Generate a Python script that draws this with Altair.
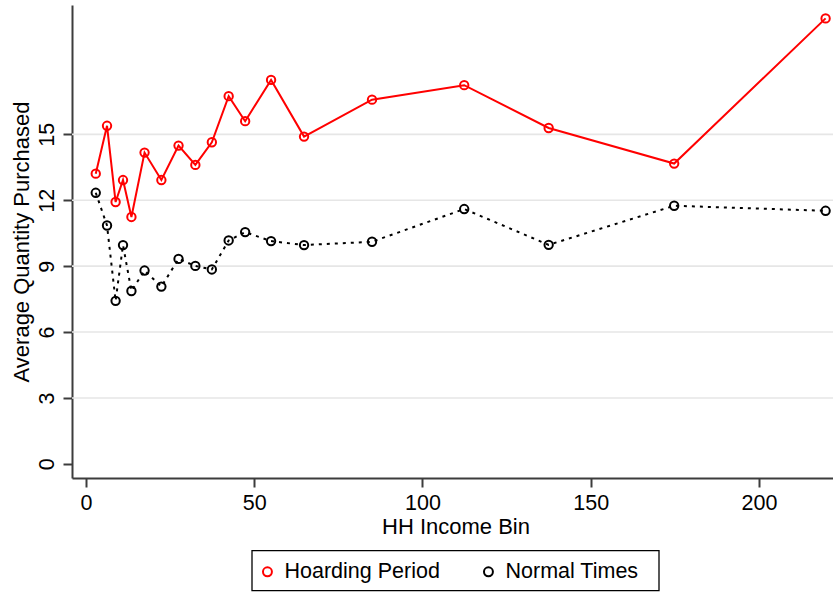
import altair as alt
import pandas as pd

# Household income bin midpoints (thousands of dollars)
income_bin = [2.9, 6.25, 8.8, 11, 13.5, 17.4, 22.4, 27.5, 32.5, 37.4, 42.4, 47.3,
              55, 64.8, 85, 112.4, 137.5, 174.8, 219.8]

# Average quantity purchased per bin
hoarding_qty = [13.21, 15.39, 11.92, 12.92, 11.24, 14.17, 12.92, 14.49, 13.61, 14.64,
                16.74, 15.60, 17.48, 14.90, 16.58, 17.24, 15.29, 13.67, 20.28]
normal_qty = [12.34, 10.85, 7.42, 9.96, 7.87, 8.80, 8.07, 9.33, 9.01, 8.85,
              10.17, 10.55, 10.14, 9.96, 10.11, 11.60, 9.97, 11.75, 11.52]

series_names = ["Hoarding Period", "Normal Times"]
series_colors = ["#ff0000", "#000000"]

x_ticks = [0, 50, 100, 150, 200]
y_ticks = [0, 3, 6, 9, 12, 15]
grid_values = [3, 6, 9, 12, 15]

FONT = "Liberation Sans"
AXIS_GREY = "#3c3c3c"

df = pd.DataFrame({
    "income": income_bin + income_bin,
    "qty": hoarding_qty + normal_qty,
    "series": [series_names[0]] * len(income_bin) + [series_names[1]] * len(income_bin),
})
grid_df = pd.DataFrame({"qty": grid_values})

x_scale = alt.Scale(domain=[-4.16, 222.0], nice=False, zero=False)
y_scale = alt.Scale(domain=[-0.645, 20.89], nice=False, zero=False)

x_axis = alt.Axis(
    values=x_ticks, title="HH Income Bin", grid=False,
    labelBaseline="top", labelPadding=5, labelFlush=False, labelOverlap=False,
    titleX=383.5, titleY=55.6, titleAlign="center", titleBaseline="alphabetic",
)
y_axis = alt.Axis(
    values=y_ticks, title="Average Quantity Purchased", grid=False,
    labelAngle=270, labelAlign="center", labelBaseline="alphabetic",
    labelPadding=9.5, labelFlush=False, labelOverlap=False,
    titleAngle=270, titleX=-43.5, titleY=236.5, titleAlign="center",
    titleBaseline="alphabetic",
)

X = alt.X("income:Q", scale=x_scale, axis=x_axis)
Y = alt.Y("qty:Q", scale=y_scale, axis=y_axis)

# Light horizontal gridlines
grid = alt.Chart(grid_df).mark_rule(color="#e6e6e6", strokeWidth=1.6).encode(
    y=alt.Y("qty:Q", scale=y_scale, axis=y_axis)
)

base = alt.Chart(df)

hoard_line = base.transform_filter(
    alt.datum.series == series_names[0]
).mark_line(color=series_colors[0], strokeWidth=2).encode(x=X, y=Y)

normal_line = base.transform_filter(
    alt.datum.series == series_names[1]
).mark_line(color=series_colors[1], strokeWidth=2, strokeDash=[3, 5]).encode(x=X, y=Y)

points = base.mark_point(filled=False, size=70, strokeWidth=2, opacity=1, shape="circle").encode(
    x=X,
    y=Y,
    color=alt.Color(
        "series:N",
        scale=alt.Scale(domain=series_names, range=series_colors),
        legend=alt.Legend(
            title=None, orient="none", legendX=174.7, legendY=545.7,
            direction="horizontal", columns=2, padding=10,
            labelFont=FONT, labelFontSize=21.5, labelColor="#000000",
            labelOffset=6.3, columnPadding=37,
            symbolType="circle", symbolSize=80, symbolStrokeWidth=2,
        ),
    ),
)

# Frame around the legend
legend_frame = alt.Chart(pd.DataFrame({"k": [0]})).mark_rect(
    fill=None, stroke="#000000", strokeWidth=1.3
).encode(
    x=alt.value(180), x2=alt.value(587), y=alt.value(545.7), y2=alt.value(585.7)
)

chart = alt.layer(grid, hoard_line, normal_line, points, legend_frame).properties(
    width=761,
    height=473,
    autosize=alt.AutoSizeParams(type="none"),
    padding={"left": 72, "top": 5, "right": 0, "bottom": 114},
).configure_view(
    stroke=None
).configure_axis(
    labelFont=FONT, titleFont=FONT,
    labelFontSize=21.5, titleFontSize=22,
    labelColor="#000000", titleColor="#000000",
    titleFontWeight="normal",
    domainColor=AXIS_GREY, domainWidth=2,
    tickColor=AXIS_GREY, tickWidth=2, tickSize=9,
)

chart.save("out.html", embed_options={"renderer": "svg", "actions": False})
